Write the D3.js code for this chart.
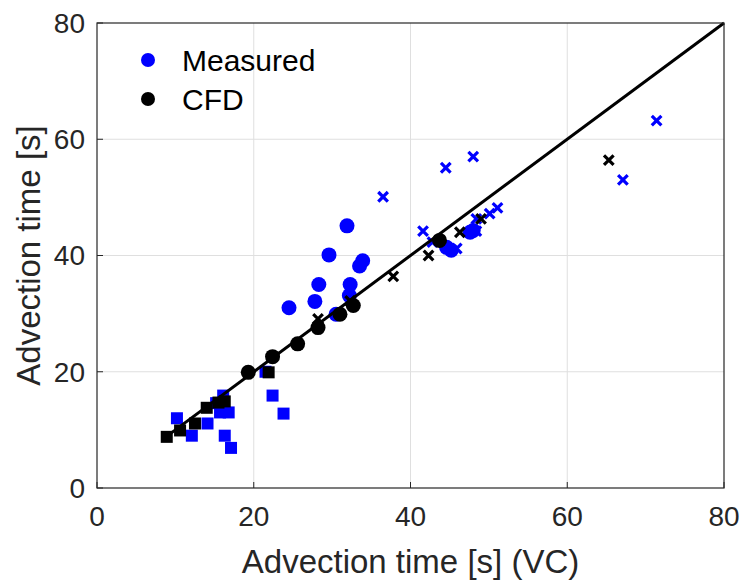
<!DOCTYPE html>
<html>
<head>
<meta charset="utf-8">
<script src="https://cdn.jsdelivr.net/npm/d3@7"></script>
<style>
  body { margin: 0; background: #fff; }
  svg { display: block; font-family: "Liberation Sans", Arial, sans-serif; }
</style>
</head>
<body>
<div id="chart"></div>
<script>
// ---- data ----
const xTicks = [0, 20, 40, 60, 80];
const yTicks = [0, 20, 40, 60, 80];

// Measured (blue)
const measSquareX = [10.2, 12.1, 14.1, 15.2, 15.7, 16.8, 16.1, 16.3, 17.1, 21.5, 22.4, 23.8];
const measSquareY = [12.0, 9.0, 11.1, 14.6, 13.0, 13.0, 15.9, 9.0, 6.9, 20.0, 15.9, 12.8];
const measCircleX = [24.5, 27.8, 28.3, 29.6, 31.9, 32.3, 32.2, 33.5, 33.9, 30.5, 44.6, 45.2, 47.6, 48.0];
const measCircleY = [31.0, 32.1, 35.0, 40.1, 45.1, 35.0, 33.1, 38.2, 39.1, 29.9, 41.4, 40.9, 44.0, 44.3];
const measCrossX = [36.5, 41.6, 42.8, 44.5, 45.9, 48.0, 48.4, 48.4, 50.1, 51.1, 67.1, 71.4];
const measCrossY = [50.1, 44.2, 42.3, 55.1, 41.2, 57.0, 44.2, 46.3, 47.2, 48.2, 53.0, 63.2];

// CFD (black)
const cfdSquareX = [8.9, 10.6, 12.5, 14.0, 15.5, 16.3, 21.9];
const cfdSquareY = [8.8, 9.9, 11.1, 13.8, 14.7, 14.9, 19.9];
const cfdCircleX = [19.3, 22.4, 25.6, 28.2, 31.0, 32.7, 43.7];
const cfdCircleY = [19.9, 22.6, 24.8, 27.6, 29.9, 31.4, 42.6];
const cfdCrossX = [28.2, 32.3, 37.8, 42.3, 46.3, 49.0, 65.3];
const cfdCrossY = [29.1, 32.2, 36.4, 40.0, 44.0, 46.3, 56.4];

// 1:1 reference line
const lineX = [8.8, 80];

const legendLabels = ["Measured", "CFD"];
const legendColors = ["#0000ff", "#000000"];

// ---- layout ----
const W = 741, H = 580;
const margin = { top: 23, right: 17, bottom: 92, left: 97 };
const iw = W - margin.left - margin.right;
const ih = H - margin.top - margin.bottom;
const ink = "#262626";

const svg = d3.select("#chart").append("svg")
    .attr("width", W)
    .attr("height", H);

const x = d3.scaleLinear().domain([0, 80]).range([0, iw]);
const y = d3.scaleLinear().domain([0, 80]).range([ih, 0]);

const g = svg.append("g").attr("transform", `translate(${margin.left},${margin.top})`);

// grid
g.append("g").selectAll("line.gx")
    .data(xTicks.slice(1, -1)).join("line")
    .attr("x1", d => x(d)).attr("x2", d => x(d))
    .attr("y1", 0).attr("y2", ih)
    .attr("stroke", "#dfdfdf").attr("stroke-width", 1);
g.append("g").selectAll("line.gy")
    .data(yTicks.slice(1, -1)).join("line")
    .attr("y1", d => y(d)).attr("y2", d => y(d))
    .attr("x1", 0).attr("x2", iw)
    .attr("stroke", "#dfdfdf").attr("stroke-width", 1);

// markers
const sq = 12, rc = 7.5, cr = 4.8;
function squares(xs, ys, color) {
    g.append("g").selectAll("rect")
        .data(xs.map((v, i) => [v, ys[i]])).join("rect")
        .attr("x", d => x(d[0]) - sq / 2).attr("y", d => y(d[1]) - sq / 2)
        .attr("width", sq).attr("height", sq)
        .attr("fill", color);
}
function circles(xs, ys, color) {
    g.append("g").selectAll("circle")
        .data(xs.map((v, i) => [v, ys[i]])).join("circle")
        .attr("cx", d => x(d[0])).attr("cy", d => y(d[1]))
        .attr("r", rc).attr("fill", color);
}
function crosses(xs, ys, color) {
    g.append("g").selectAll("path")
        .data(xs.map((v, i) => [v, ys[i]])).join("path")
        .attr("d", d => {
            const cx = x(d[0]), cy = y(d[1]);
            return `M${cx - cr},${cy - cr}L${cx + cr},${cy + cr}M${cx - cr},${cy + cr}L${cx + cr},${cy - cr}`;
        })
        .attr("stroke", color).attr("stroke-width", 3.2).attr("fill", "none");
}

squares(measSquareX, measSquareY, legendColors[0]);
circles(measCircleX, measCircleY, legendColors[0]);
crosses(measCrossX, measCrossY, legendColors[0]);
squares(cfdSquareX, cfdSquareY, legendColors[1]);
circles(cfdCircleX, cfdCircleY, legendColors[1]);
crosses(cfdCrossX, cfdCrossY, legendColors[1]);

// 1:1 line
g.append("path")
    .datum(lineX)
    .attr("d", d3.line().x(d => x(d)).y(d => y(d)))
    .attr("stroke", "#000").attr("stroke-width", 3).attr("fill", "none");

// axes box
g.append("rect")
    .attr("width", iw).attr("height", ih)
    .attr("fill", "none").attr("stroke", ink).attr("stroke-width", 1.2);

// inward ticks
const tl = 6;
g.append("g").selectAll("line")
    .data(xTicks).join("line")
    .attr("x1", d => x(d)).attr("x2", d => x(d))
    .attr("y1", ih).attr("y2", ih - tl)
    .attr("stroke", ink);
g.append("g").selectAll("line")
    .data(yTicks).join("line")
    .attr("y1", d => y(d)).attr("y2", d => y(d))
    .attr("x1", 0).attr("x2", tl)
    .attr("stroke", ink);

// tick labels
g.append("g").selectAll("text")
    .data(xTicks).join("text")
    .attr("x", d => x(d)).attr("y", ih + 38)
    .attr("text-anchor", "middle")
    .attr("font-size", 28).attr("fill", ink)
    .text(d => d);
g.append("g").selectAll("text")
    .data(yTicks).join("text")
    .attr("x", -12).attr("y", d => y(d))
    .attr("dy", "0.35em")
    .attr("text-anchor", "end")
    .attr("font-size", 28).attr("fill", ink)
    .text(d => d);

// axis labels
svg.append("text")
    .attr("x", margin.left + iw / 2).attr("y", 573)
    .attr("text-anchor", "middle")
    .attr("font-size", 33).attr("fill", ink)
    .text("Advection time [s] (VC)");
svg.append("text")
    .attr("transform", `translate(40,${margin.top + ih / 2}) rotate(-90)`)
    .attr("text-anchor", "middle")
    .attr("font-size", 33).attr("fill", ink)
    .text("Advection time [s]");

// legend (no box)
const leg = svg.append("g");
legendLabels.forEach((lab, i) => {
    const ly = 60 + i * 39;
    leg.append("circle").attr("cx", 148).attr("cy", ly).attr("r", 7).attr("fill", legendColors[i]);
    leg.append("text").attr("x", 182).attr("y", ly).attr("dy", "0.35em")
        .attr("font-size", 30).attr("fill", "#000").text(lab);
});
</script>
</body>
</html>
